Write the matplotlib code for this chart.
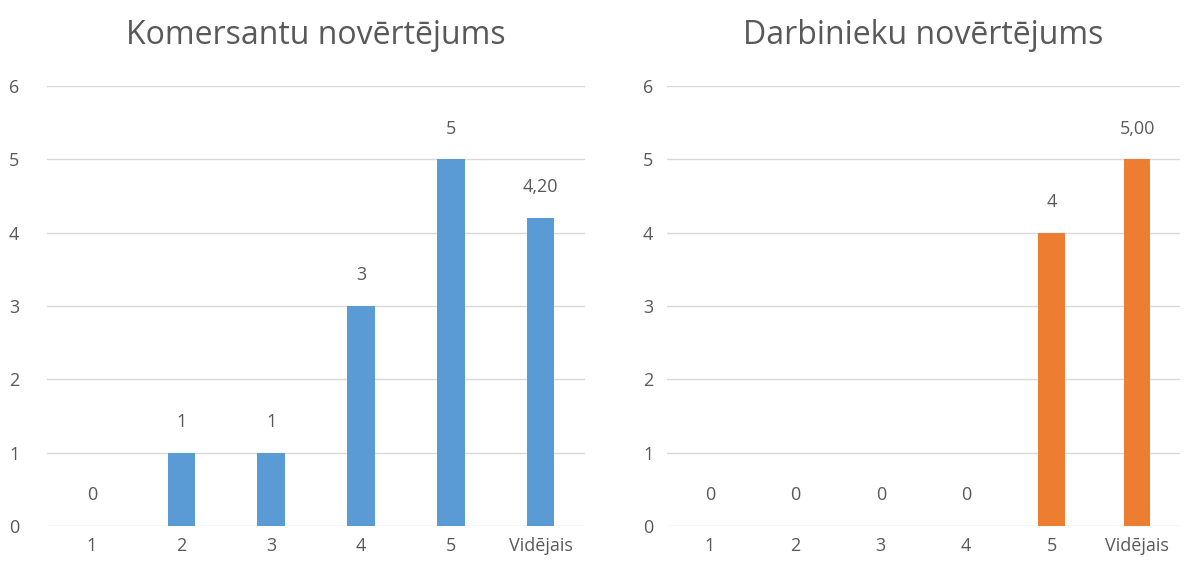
import matplotlib.pyplot as plt

# Kategorijas un vērtības
kategorijas = ["1", "2", "3", "4", "5", "Vidējais"]
komersanti = [0, 1, 1, 3, 5, 4.20]
darbinieki = [0, 0, 0, 0, 4, 5.00]
virsraksti = ["Komersantu novērtējums", "Darbinieku novērtējums"]
y_ticks = [0, 1, 2, 3, 4, 5, 6]

krasas = ["#5B9BD5", "#ED7D31"]
teksta_krasa = "#595959"

plt.rcParams['font.family'] = ['Open Sans', 'DejaVu Sans']

fig = plt.figure(figsize=(11.87, 5.70), dpi=100)
asis = [fig.add_axes([0.0396, 0.0772, 0.4535, 0.7719]),
        fig.add_axes([0.5620, 0.0772, 0.4320, 0.7719])]


def etikete(v, idx):
    # pēdējā kolonna ir vidējais ar 2 decimālēm
    if idx == len(kategorijas) - 1:
        return f"{v:.2f}".replace(".", ",")
    return f"{v:g}"


for ax, vertibas, virsraksts, krasa, pad in zip(asis, [komersanti, darbinieki], virsraksti, krasas, [20, 10]):
    x = list(range(len(kategorijas)))
    ax.bar(x, vertibas, width=0.31, color=krasa, zorder=3)
    for i, v in enumerate(vertibas):
        ax.annotate(etikete(v, i), (i, v), xytext=(0, 22), textcoords="offset points",
                    ha="center", va="center", fontsize=13, color=teksta_krasa)
    ax.set_xlim(-0.5, len(kategorijas) - 0.5)
    ax.set_ylim(0, 6)
    ax.set_yticks(y_ticks)
    ax.set_xticks(x)
    ax.set_xticklabels(kategorijas)
    ax.grid(axis="y", color="#D9D9D9", linewidth=1, zorder=0)
    for s in ax.spines.values():
        s.set_visible(False)
    ax.tick_params(axis="both", length=0, labelsize=13, labelcolor=teksta_krasa)
    ax.tick_params(axis="y", pad=pad)
    ax.tick_params(axis="x", pad=8)
    ax.set_title(virsraksts, fontsize=23, color=teksta_krasa, pad=30)

fig.savefig("out.png", dpi=100)
